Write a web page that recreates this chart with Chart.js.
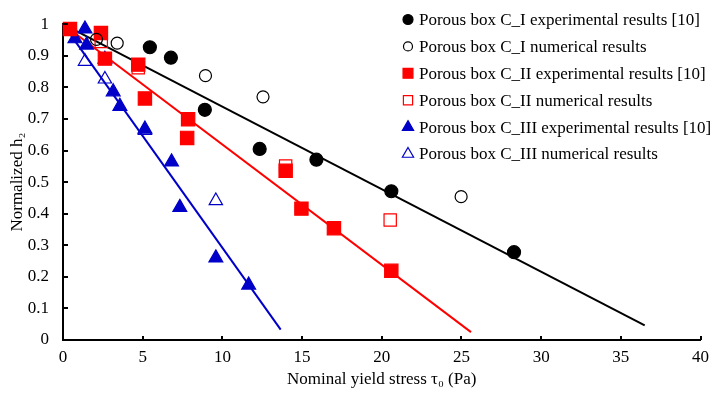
<!DOCTYPE html>
<html>
<head>
<meta charset="utf-8">
<script src="https://cdn.jsdelivr.net/npm/chart.js@4.4.0/dist/chart.umd.min.js"></script>
<style>
body{margin:0;background:#fff;}
</style>
</head>
<body>
<canvas id="yield-chart" width="716" height="400"></canvas>
<script>
//series labels
var seriesLabels = [
    'Porous box C_I experimental results [10]',
    'Porous box C_I numerical results',
    'Porous box C_II experimental results [10]',
    'Porous box C_II numerical results',
    'Porous box C_III experimental results [10]',
    'Porous box C_III numerical results'
];

//C_I
var c1ExpX = [5.45, 6.77, 8.9, 12.34, 15.9, 20.6, 28.3];
var c1ExpY = [0.927, 0.894, 0.729, 0.605, 0.571, 0.471, 0.278];
var c1NumX = [2.1, 3.4, 8.94, 12.55, 24.98];
var c1NumY = [0.952, 0.94, 0.837, 0.770, 0.454];

//C_II
var c2ExpX = [0.44, 2.38, 2.63, 4.72, 5.14, 7.85, 7.79, 13.97, 14.96, 17.0, 20.6];
var c2ExpY = [0.985, 0.972, 0.891, 0.872, 0.765, 0.699, 0.640, 0.536, 0.416, 0.354, 0.219];
var c2NumX = [2.4, 4.72, 13.97, 20.53];
var c2NumY = [0.945, 0.862, 0.551, 0.380];

//C_III
var c3ExpX = [0.75, 1.38, 1.48, 2.63, 3.15, 3.57, 5.14, 6.81, 7.33, 9.59, 11.65];
var c3ExpY = [0.954, 0.985, 0.934, 0.889, 0.786, 0.740, 0.668, 0.564, 0.420, 0.260, 0.174];
var c3NumX = [1.38, 2.63, 5.14, 9.59];
var c3NumY = [0.882, 0.826, 0.663, 0.441];

//fitted lines (start, end)
var fit1X = [0, 36.5], fit1Y = [1, 0.046];
var fit2X = [0, 25.6], fit2Y = [1, 0.025];
var fit3X = [0, 13.66], fit3Y = [1, 0.033];

//axis ticks
var xTicks = {min: 0, max: 40, step: 5};
var yTicks = {min: 0, max: 1, step: 0.1};

var BLUE = '#0000C8';
var RED = '#FF0000';

function toPoints(xs, ys) {
    var pts = [];
    for (var i = 0; i < xs.length; i++) {
        pts.push({x: xs[i], y: ys[i]});
    }
    return pts;
}

function markerSet(label, xs, ys, style, fill, stroke, r, legendR) {
    return {
        label: label,
        data: toPoints(xs, ys),
        pointStyle: style,
        pointRadius: r,
        pointBackgroundColor: fill,
        pointBorderColor: stroke,
        pointBorderWidth: 1.2,
        backgroundColor: fill,
        borderColor: stroke,
        showLine: false,
        clip: false,
        legendRadius: legendR
    };
}

function fitSet(xs, ys, color) {
    return {
        label: '',
        isFit: true,
        data: toPoints(xs, ys),
        showLine: true,
        borderColor: color,
        borderWidth: 2,
        pointRadius: 0,
        clip: false
    };
}

//tick marks pointing into the plot
var innerTicks = {
    id: 'innerTicks',
    afterDraw: function (chart) {
        var c = chart.ctx, xs = chart.scales.x, ys = chart.scales.y;
        var bottom = chart.chartArea.bottom, left = chart.chartArea.left;
        c.save();
        c.fillStyle = '#000';
        for (var v = xTicks.min + xTicks.step; v <= xTicks.max; v += xTicks.step) {
            var px = Math.round(xs.getPixelForValue(v));
            c.fillRect(px - 1, bottom - 4, 2, 4);
        }
        for (var w = yTicks.step; w <= yTicks.max + 1e-9; w += yTicks.step) {
            var py = Math.round(ys.getPixelForValue(w));
            c.fillRect(left, py - 1, 5, 2);
        }
        c.restore();
    }
};

//legend drawn as one column inside the plot
var boxLegend = {
    id: 'boxLegend',
    afterDraw: function (chart) {
        var c = chart.ctx;
        c.save();
        c.font = '17px "Liberation Serif", "DejaVu Serif", serif';
        c.textBaseline = 'middle';
        c.textAlign = 'left';
        var row = 0;
        chart.data.datasets.forEach(function (d) {
            if (d.isFit) return;
            var y = 19.5 + row * 26.9;
            c.fillStyle = d.backgroundColor;
            c.strokeStyle = d.borderColor;
            c.lineWidth = 1.2;
            Chart.helpers.drawPoint(c, {pointStyle: d.pointStyle, radius: d.legendRadius, borderWidth: 1.2, rotation: 0}, 408, y);
            c.fillStyle = '#000';
            c.fillText(d.label, 419, y + 1);
            row++;
        });
        c.restore();
    }
};

Chart.defaults.font.family = '"Liberation Serif", "DejaVu Serif", serif';
Chart.defaults.font.size = 17;
Chart.defaults.color = '#000';

var ctx = document.getElementById('yield-chart').getContext('2d');
var chart = new Chart(ctx, {
    type: 'scatter',
    data: {
        datasets: [
            markerSet(seriesLabels[0], c1ExpX, c1ExpY, 'circle', '#000', '#000', 6.5, 5),
            markerSet(seriesLabels[1], c1NumX, c1NumY, 'circle', 'rgba(0,0,0,0)', '#000', 6, 4.5),
            markerSet(seriesLabels[2], c2ExpX, c2ExpY, 'rect', RED, RED, 9.4, 7),
            markerSet(seriesLabels[3], c2NumX, c2NumY, 'rect', 'rgba(0,0,0,0)', RED, 8.7, 6.5),
            markerSet(seriesLabels[4], c3ExpX, c3ExpY, 'triangle', BLUE, BLUE, 8, 6.5),
            markerSet(seriesLabels[5], c3NumX, c3NumY, 'triangle', 'rgba(0,0,0,0)', BLUE, 7.7, 6.5),
            fitSet(fit1X, fit1Y, '#000'),
            fitSet(fit2X, fit2Y, RED),
            fitSet(fit3X, fit3Y, BLUE)
        ]
    },
    options: {
        responsive: false,
        animation: false,
        events: [],
        layout: {padding: {top: 13, right: 14, left: 0, bottom: 0}},
        plugins: {
            legend: {display: false},
            tooltip: {enabled: false}
        },
        scales: {
            x: {
                type: 'linear',
                min: xTicks.min,
                max: xTicks.max,
                afterFit: function (scale) { scale.height = 60; },
                ticks: {stepSize: xTicks.step, padding: 7, maxRotation: 0},
                grid: {display: false, drawTicks: false},
                border: {display: true, color: '#000', width: 2},
                title: {display: true, text: 'Nominal yield stress τ₀ (Pa)', padding: {top: 0, bottom: 10}}
            },
            y: {
                type: 'linear',
                min: yTicks.min,
                max: yTicks.max,
                afterFit: function (scale) { scale.width = 63; },
                ticks: {
                    stepSize: yTicks.step,
                    padding: 14,
                    callback: function (v) { return String(Math.round(v * 10) / 10); }
                },
                grid: {display: false, drawTicks: false},
                border: {display: true, color: '#000', width: 2},
                title: {display: true, text: 'Normalized h₂', padding: {top: 7, bottom: 0}}
            }
        }
    },
    plugins: [innerTicks, boxLegend]
});
</script>
</body>
</html>
